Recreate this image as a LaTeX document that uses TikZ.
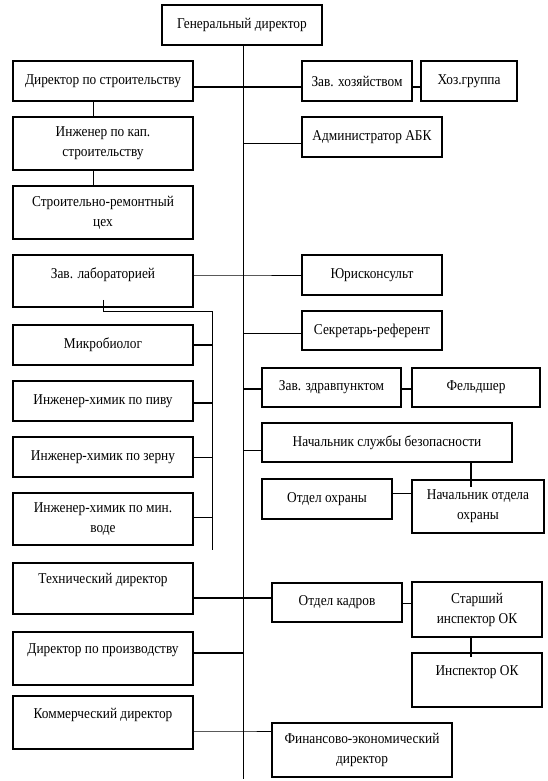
\documentclass[tikz,border=0pt]{standalone}
\usepackage{fontspec}
\setmainfont{Liberation Serif}[FakeStretch=0.89]
\usetikzlibrary{calc}
\begin{document}
\begin{tikzpicture}[x=1pt,y=-1pt,
  box/.style={draw, line width=1.9pt, rectangle, inner sep=0pt, align=center, font=\fontsize{15}{20}\selectfont},
  txt/.style={inner sep=0pt, align=center, font=\fontsize{15}{20}\selectfont},
  thinline/.style={line width=0.9pt},
  strongline/.style={line width=1.9pt}]
\useasboundingbox (0,0) rectangle (547,781);
% top
\node[box,minimum width=160pt,minimum height=40pt] (gd) at (242,25) {Генеральный директор};
% left column
\node[box,minimum width=180pt,minimum height=40pt] (dps) at (103,81) {Директор по строительству};
\node[box,minimum width=180pt,minimum height=53pt] (ikp) at (103,143.5) {Инженер по кап.\\строительству};
\node[box,minimum width=180pt,minimum height=53pt] (src) at (103,212.5) {Строительно-ремонтный\\цех};
\node[box,minimum width=180pt,minimum height=52pt] (zl) at (103,281) {};
\node[txt] (zlt) at (103,275) {Зав. лабораторией};
\node[box,minimum width=180pt,minimum height=40pt] (mb) at (103,345) {Микробиолог};
\node[box,minimum width=180pt,minimum height=40pt] (ihp) at (103,401) {Инженер-химик по пиву};
\node[box,minimum width=180pt,minimum height=40pt] (ihz) at (103,457) {Инженер-химик по зерну};
\node[box,minimum width=180pt,minimum height=52pt] (ihm) at (103,519) {Инженер-химик по мин.\\воде};
\node[box,minimum width=180pt,minimum height=51pt] (td) at (103,588.5) {};
\node[txt] (tdt) at (103,580) {Технический директор};
\node[box,minimum width=180pt,minimum height=53pt] (dpp) at (103,658.5) {};
\node[txt] (dppt) at (103,650) {Директор по производству};
\node[box,minimum width=180pt,minimum height=53pt] (kd) at (103,722.5) {};
\node[txt] (kdt) at (103,715) {Коммерческий директор};
% right column
\node[box,minimum width=110pt,minimum height=40pt] (zh) at (357,81) {Зав. хозяйством};
\node[box,minimum width=96pt,minimum height=40pt] (hg) at (469,81) {Хоз.группа};
\node[box,minimum width=140pt,minimum height=40pt] (abk) at (372,137) {Администратор АБК};
\node[box,minimum width=140pt,minimum height=40pt] (ur) at (372,275) {Юрисконсульт};
\node[box,minimum width=140pt,minimum height=39pt] (sr) at (372,330.5) {Секретарь-референт};
\node[box,minimum width=139pt,minimum height=39pt] (zz) at (331.5,387.5) {Зав. здравпунктом};
\node[box,minimum width=128pt,minimum height=39pt] (fd) at (476,387.5) {Фельдшер};
\node[box,minimum width=250pt,minimum height=39pt] (nsb) at (387,442.5) {Начальник службы безопасности};
\node[box,minimum width=130pt,minimum height=40pt] (oo) at (327,499) {Отдел охраны};
\node[box,minimum width=132pt,minimum height=53pt] (noo) at (478,506.5) {Начальник отдела\\охраны};
\node[box,minimum width=130pt,minimum height=39pt] (ok) at (337,602.5) {Отдел кадров};
\node[box,minimum width=130pt,minimum height=55pt] (sio) at (477,609.5) {Старший\\инспектор ОК};
\node[box,minimum width=130pt,minimum height=54pt] (iok) at (477,680) {};
\node[txt] (iokt) at (477,672) {Инспектор ОК};
\node[box,minimum width=180pt,minimum height=54pt] (fed) at (362,750) {Финансово-экономический\\директор};
% junction coordinates
\coordinate (mainbot) at (243,779);
\coordinate (j1) at (243,87);
\coordinate (j2) at (243,143);
\coordinate (j3) at (243,275);
\coordinate (j4) at (243,333);
\coordinate (j5) at (243,389);
\coordinate (j6) at (243,450);
\coordinate (j7) at (243,598);
\coordinate (j8) at (243,653);
\coordinate (j9) at (243,731);
\coordinate (labbus) at (212,311);
\coordinate (labend) at (212,550);
\coordinate (sx) at (471,0);
\coordinate (cx) at (93,0);
% main line
\draw[thinline] (gd.south -| mainbot) -- (mainbot);
% branches
\draw[strongline] (dps.east |- j1) -- (j1) -- (zh.west |- j1);
\draw[strongline] (zh.east |- j1) -- (hg.west |- j1);
\draw[thinline] (j2) -- (abk.west |- j2);
\draw[thinline] (zl.east |- j3) -- (j3) -- (ur.west |- j3);
\draw[thinline] (j4) -- (sr.west |- j4);
\draw[strongline] (j5) -- (zz.west |- j5);
\draw[strongline] (zz.east |- j5) -- (fd.west |- j5);
\draw[thinline] (j6) -- (nsb.west |- j6);
\draw[strongline] (nsb.south -| sx) -- ([yshift=-8pt]noo.north -| sx);
\draw[thinline] (oo.east |- 0,493) -- (noo.west |- 0,493);
\draw[strongline] (td.east |- j7) -- (j7) -- (ok.west |- j7);
\draw[thinline] (ok.east |- 0,603) -- (sio.west |- 0,603);
\draw[strongline] (sio.south -| sx) -- ([yshift=-5pt]iok.north -| sx);
\draw[strongline] (dpp.east |- j8) -- (j8);
\draw[thinline] (kd.east |- j9) -- (j9) -- (fed.west |- j9);
% left chains
\draw[thinline] (dps.south -| cx) -- (ikp.north -| cx);
\draw[thinline] (ikp.south -| cx) -- (src.north -| cx);
\draw[thinline] ([yshift=8pt]zl.south) |- (labbus) -- (labend);
\draw[strongline] (mb.east) -- (mb.east -| labend);
\draw[strongline] ([yshift=-2pt]ihp.east) -- ([yshift=-2pt]ihp.east -| labend);
\draw[thinline] (ihz.east) -- (ihz.east -| labend);
\draw[thinline] ([yshift=2pt]ihm.east) -- ([yshift=2pt]ihm.east -| labend);
\end{tikzpicture}
\end{document}
